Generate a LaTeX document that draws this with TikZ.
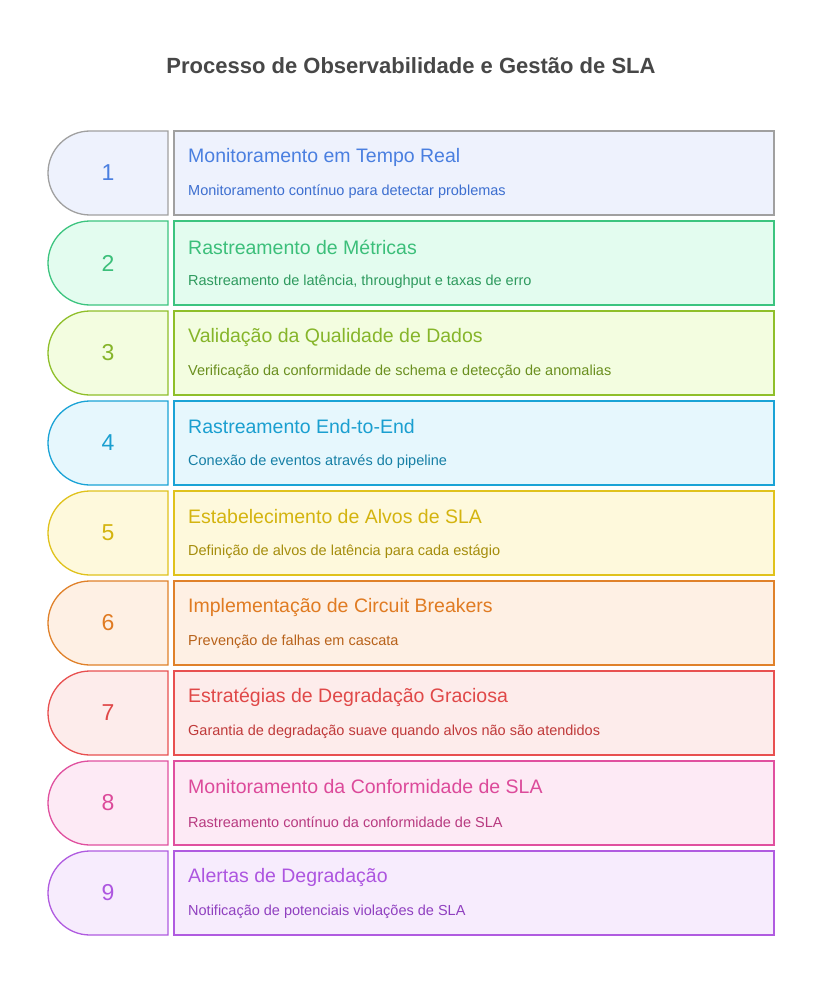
\documentclass[tikz,border=0pt]{standalone}
\usepackage{fontspec}
\setmainfont{Liberation Sans}
\begin{document}
\begin{tikzpicture}[x=1pt,y=-1pt,
  tab/.style={line width=1.3pt},
  ttl/.style={anchor=west,font=\fontsize{19.5}{21}\selectfont,inner sep=0},
  dsc/.style={anchor=west,font=\fontsize{14.5}{16}\selectfont,inner sep=0},
  num/.style={font=\fontsize{23}{25}\selectfont,inner sep=0}]
\useasboundingbox (0,0) rectangle (822,1008);
\fill[white] (0,0) rectangle (822,1008);
\node[font=\bfseries\fontsize{22}{26}\selectfont,text=black!72] (title) at (411,66) {Processo de Observabilidade e Gestão de SLA};
\def\row#1#2#3#4#5#6#7#8{%
  \pgfmathsetmacro{\yt}{131+90*(#1-1)}
  \definecolor{st}{HTML}{#2}\definecolor{fl}{HTML}{#3}\definecolor{tx}{HTML}{#4}\definecolor{dx}{HTML}{#5}
  \draw[tab,draw=st,fill=fl] (168,\yt) -- (90,\yt) .. controls (66.8,\yt) and (48,\yt+18.8) .. (48,\yt+42) .. controls (48,\yt+65.2) and (66.8,\yt+84) .. (90,\yt+84) -- (168,\yt+84) -- cycle;
  \draw[tab,draw=st,fill=fl] (174,\yt) rectangle (774,\yt+84);
  \node[num,text=tx] (n#1) at (108,\yt+42) {#1};
  \node[ttl,text=tx] (t#1) at (188,\yt+26) {#7};
  \node[dsc,text=dx] (d#1) at (188,\yt+61) {#8};
}
\row{1}{A0A0A0}{EEF2FD}{4A7FE0}{3D6FD0}{}{Monitoramento em Tempo Real}{Monitoramento contínuo para detectar problemas}
\row{2}{3CC47F}{E3FCEF}{3CBF7A}{2E9A5E}{}{Rastreamento de Métricas}{Rastreamento de latência, throughput e taxas de erro}
\row{3}{8FBF2A}{F3FDE0}{86B52A}{6A8F1F}{}{Validação da Qualidade de Dados}{Verificação da conformidade de schema e detecção de anomalias}
\row{4}{1AA3D6}{E6F7FD}{1A9FD0}{167FA5}{}{Rastreamento End-to-End}{Conexão de eventos através do pipeline}
\row{5}{E0C21C}{FEF9DC}{D4B40F}{A58D0C}{}{Estabelecimento de Alvos de SLA}{Definição de alvos de latência para cada estágio}
\row{6}{E0812A}{FEF0E4}{E07B22}{B8621A}{}{Implementação de Circuit Breakers}{Prevenção de falhas em cascata}
\row{7}{E85050}{FDECEB}{E04848}{C03A3A}{}{Estratégias de Degradação Graciosa}{Garantia de degradação suave quando alvos não são atendidos}
\row{8}{E0509F}{FDEAF5}{DC4A9A}{B83A80}{}{Monitoramento da Conformidade de SLA}{Rastreamento contínuo da conformidade de SLA}
\row{9}{B05BE0}{F7ECFD}{AD55E0}{9040C0}{}{Alertas de Degradação}{Notificação de potenciais violações de SLA}
\end{tikzpicture}
\end{document}
